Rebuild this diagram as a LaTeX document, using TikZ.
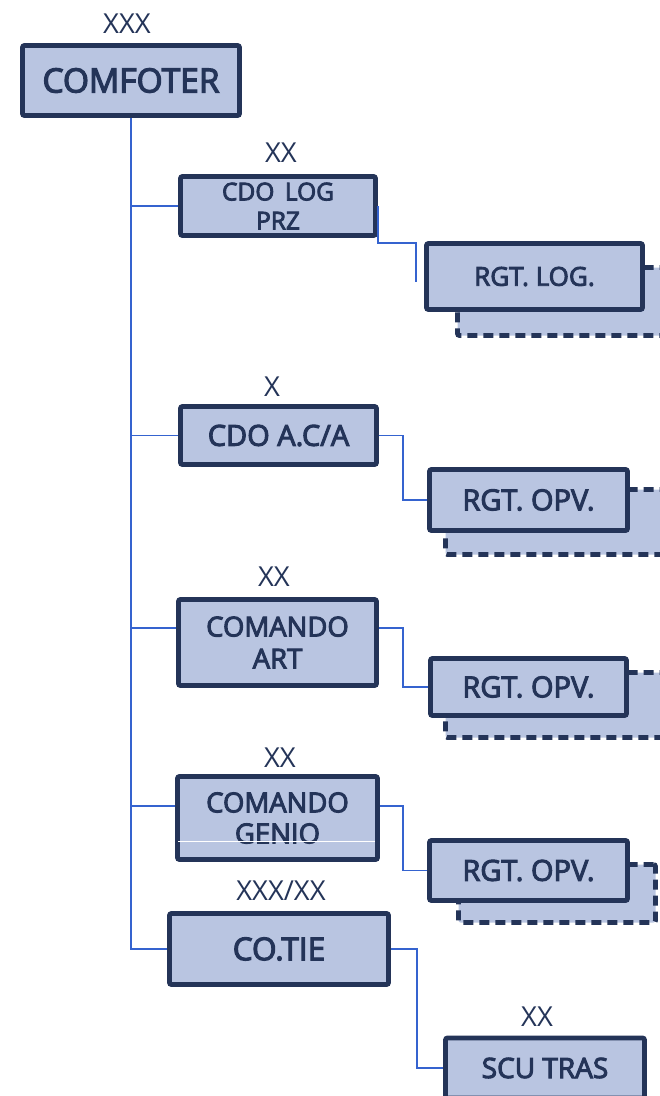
\documentclass[tikz,border=0pt]{standalone}
\usepackage{fontspec}
\setmainfont{Open Sans}[FakeBold=3.5]
\newfontfamily\rankfont{Open Sans}
\usepackage{tikz}
\usetikzlibrary{positioning}
\definecolor{unitfill}{HTML}{B9C5E1}
\definecolor{unitline}{HTML}{243458}
\definecolor{wireblue}{HTML}{3563CF}
\newcommand{\fsz}[2]{\fontsize{#1}{#2}\selectfont}
\tikzset{
  unit/.style={draw=unitline, fill=unitfill, line width=4.8pt, rounded corners=2pt,
    text=unitline, align=center, inner sep=0pt},
  ghost/.style={unit, dash pattern=on 10pt off 6pt},
  wire/.style={draw=wireblue, line width=1.5pt},
  rank/.style={text=unitline, inner sep=0pt, font=\rankfont\fsz{27.5}{30}}
}

\begin{document}
\begin{tikzpicture}[x=1pt,y=-1pt]
\useasboundingbox (0,0) rectangle (660,1096);
% shadows of the regiments
\node[ghost, minimum width=230pt, minimum height=68pt] (LogS) at (572.5,301.5) {};
\node[ghost, minimum width=242pt, minimum height=65pt] (Opv1S) at (566.5,522) {};
\node[ghost, minimum width=242pt, minimum height=65pt] (Opv2S) at (566.5,705) {};
\node[ghost, minimum width=197pt, minimum height=58pt] (Opv3S) at (557,893.5) {};
% units
\node[unit, minimum width=217pt, minimum height=70pt, font=\fsz{33.5}{36}] (Com) at (131,80.5) {COMFOTER};
\node[unit, minimum width=195pt, minimum height=59pt, font=\fsz{24.5}{29}] (Log) at (278,206) {CDO\, LOG\\PRZ};
\node[unit, minimum width=216pt, minimum height=66pt, font=\fsz{26}{30}] (RLog) at (534.5,276.5) {RGT. LOG.};
\node[unit, minimum width=196pt, minimum height=58pt, font=\fsz{29}{30}] (Aca) at (278.5,435.5) {CDO A.C/A};
\node[unit, minimum width=198pt, minimum height=61pt, font=\fsz{29}{30}] (Opv1) at (528.5,500) {RGT. OPV.};
\node[unit, minimum width=198pt, minimum height=86pt, font=\fsz{27.5}{32}] (Art) at (277.5,642.5) {COMANDO\\ART};
\node[unit, minimum width=196pt, minimum height=57pt, font=\fsz{29}{30}] (Opv2) at (528.5,687) {RGT. OPV.};
\node[unit, minimum width=200pt, minimum height=83pt, font=\fsz{27.5}{31}] (Gen) at (277.5,818) {COMANDO\\GENIO};
\node[unit, minimum width=198pt, minimum height=60pt, font=\fsz{29}{30}] (Opv3) at (528.5,870.5) {RGT. OPV.};
\node[unit, minimum width=219pt, minimum height=71pt, font=\fsz{31.5}{34}] (Tie) at (279,949) {CO.TIE};
\node[unit, minimum width=199pt, minimum height=60pt, font=\fsz{28}{30}] (Scu) at (545,1068) {SCU TRAS};
\draw[white, line width=1pt] (178,841) -- (375,841);
% echelons
\node[rank] (ComR) at (127,24) {XXX};
\node[rank] (LogR) at (281,153) {XX};
\node[rank] (AcaR) at (272,387) {X};
\node[rank] (ArtR) at (274,577) {XX};
\node[rank] (GenR) at (280,758) {XX};
\node[rank] (TieR) at (281,891) {XXX/XX};
\node[rank] (ScuR) at (537,1017) {XX};
% connectors
\coordinate (LogEnd) at (416,282);
\coordinate (ArtW) at ([yshift=14.5pt]Art.west);
\coordinate (ArtE) at ([yshift=14.5pt]Art.east);
\coordinate (GenW) at ([yshift=12pt]Gen.west);
\coordinate (GenE) at ([yshift=12pt]Gen.east);
\draw[wire] (Com.south) |- (Tie.west);
\draw[wire] (Com.south |- Log.west) -- (Log.west);
\draw[wire] (Com.south |- Aca.west) -- (Aca.west);
\draw[wire] (Com.south |- ArtW) -- (ArtW);
\draw[wire] (Com.south |- GenW) -- (GenW);
\draw[wire] (Log.east) -- ++(0,37) -| (LogEnd);
\draw[wire] (Aca.east) -- ++(24,0) |- (Opv1.west);
\draw[wire] (ArtE) -- ++(24,0) |- (Opv2.west);
\draw[wire] (GenE) -- ++(23,0) |- (Opv3.west);
\draw[wire] (Tie.east) -- ++(26,0) |- (Scu.west);
\end{tikzpicture}
\end{document}
